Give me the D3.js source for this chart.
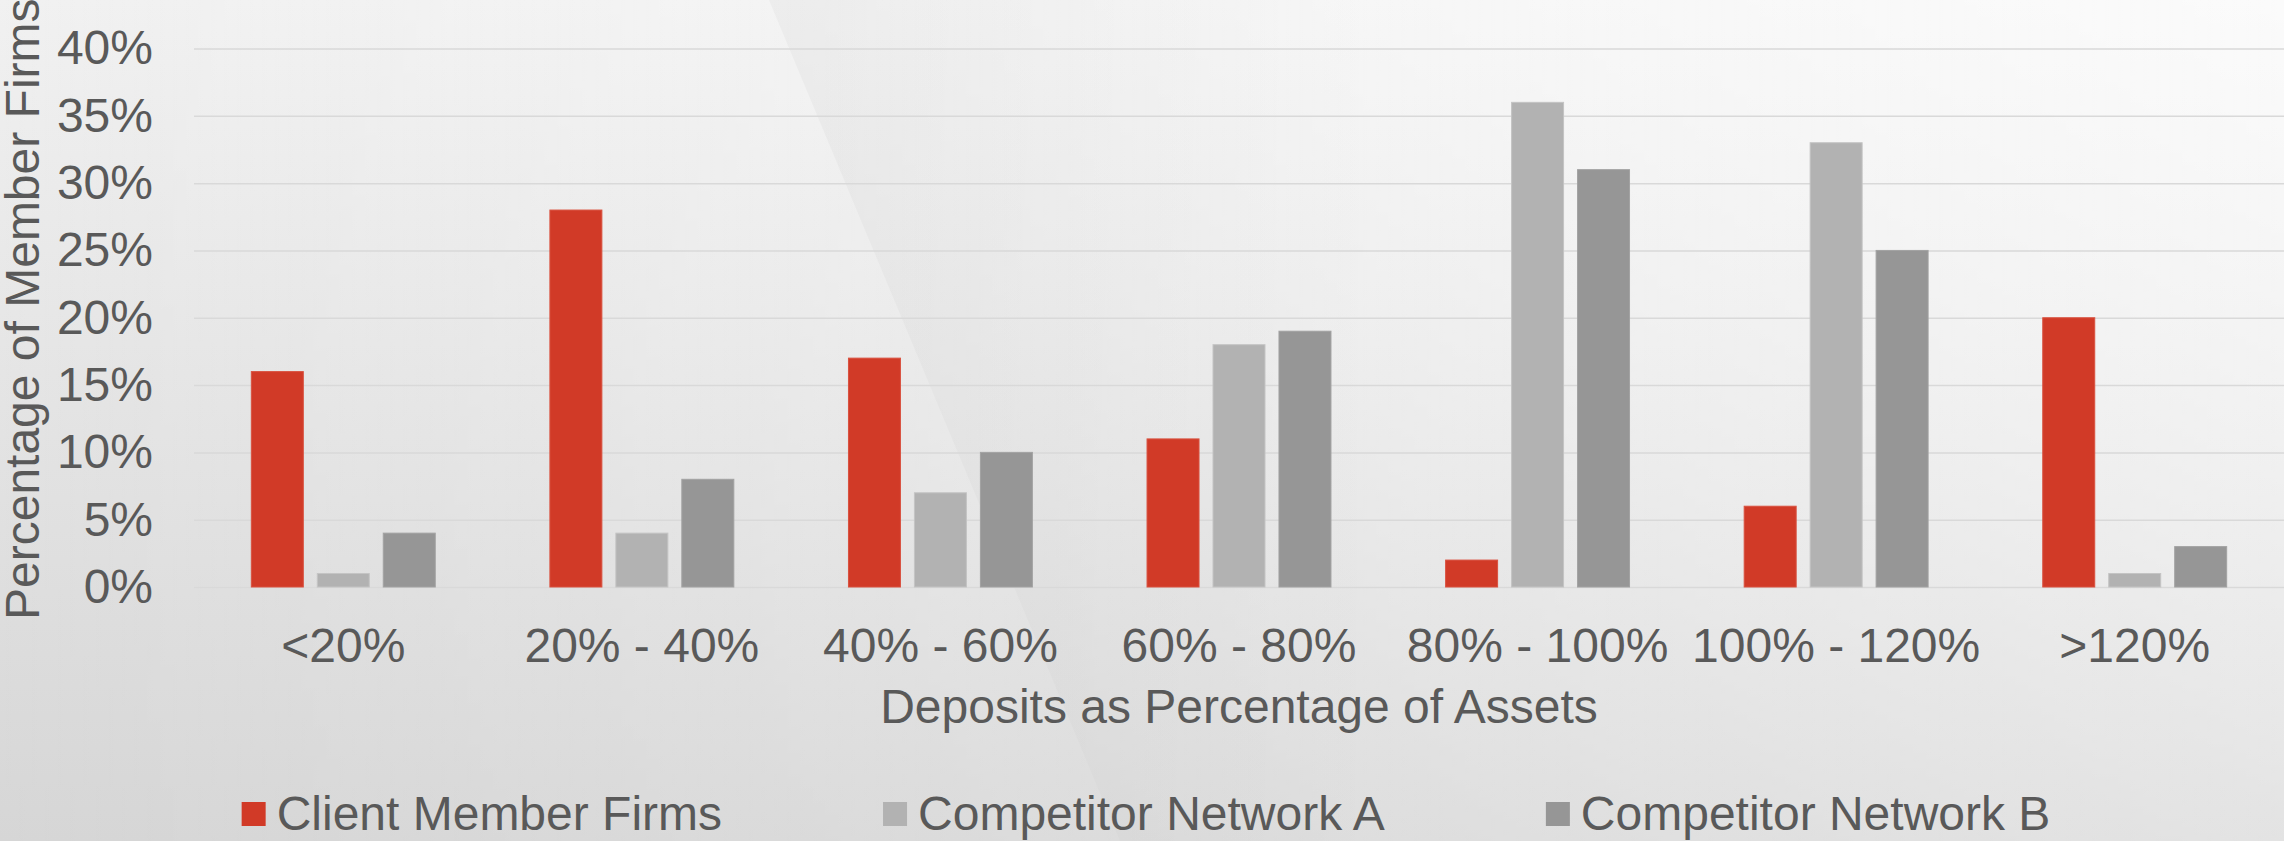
<!DOCTYPE html>
<html>
<head>
<meta charset="utf-8">
<script src="https://cdn.jsdelivr.net/npm/d3@7"></script>
<style>
  html, body { margin: 0; padding: 0; overflow: hidden; background: #e8e8e8; }
  svg { display: block; font-family: "Liberation Sans", Arial, sans-serif; }
</style>
</head>
<body>
<svg id="chart"></svg>
<script>
// chart data
const categories = ['<20%', '20% - 40%', '40% - 60%', '60% - 80%', '80% - 100%', '100% - 120%', '>120%'];
const seriesNames = ['Client Member Firms', 'Competitor Network A', 'Competitor Network B'];
const clientFirms = [16, 28, 17, 11, 2, 6, 20];
const networkA = [1, 4, 7, 18, 36, 33, 1];
const networkB = [4, 8, 10, 19, 31, 25, 3];
const yTicks = [0, 5, 10, 15, 20, 25, 30, 35, 40];
const colors = ['#d13a27', '#b2b2b2', '#969696'];
const strokes = ['#d9513f', '#c4c4c4', '#a2a2a2'];

const width = 2284;
const height = 841;
const margin = { top: 48.5, right: 0, bottom: 254, left: 194 };
const textColor = '#595959';

const svg = d3.select('#chart')
    .attr('width', width)
    .attr('height', height);

const defs = svg.append('defs');

// background: light gray slide, darker toward the bottom left
const vGrad = defs.append('linearGradient').attr('id', 'bgV')
    .attr('x1', 0).attr('y1', 0).attr('x2', 0).attr('y2', 1);
vGrad.append('stop').attr('offset', '0%').attr('stop-color', '#f1f1f1');
vGrad.append('stop').attr('offset', '100%').attr('stop-color', '#d6d6d6');

const hGrad = defs.append('linearGradient').attr('id', 'bgH')
    .attr('x1', 0).attr('y1', 0).attr('x2', 1).attr('y2', 0);
hGrad.append('stop').attr('offset', '0%').attr('stop-color', '#fff').attr('stop-opacity', 0);
hGrad.append('stop').attr('offset', '100%').attr('stop-color', '#fff').attr('stop-opacity', 0.7);

const mGrad = defs.append('linearGradient').attr('id', 'bgM')
    .attr('x1', 0).attr('y1', 0).attr('x2', 0).attr('y2', 1);
mGrad.append('stop').attr('offset', '0%').attr('stop-color', '#fff');
mGrad.append('stop').attr('offset', '100%').attr('stop-color', '#777');
defs.append('mask').attr('id', 'bgMask')
    .append('rect').attr('width', width).attr('height', height).attr('fill', 'url(#bgM)');

const sGrad = defs.append('linearGradient').attr('id', 'streak')
    .attr('gradientUnits', 'userSpaceOnUse')
    .attr('x1', 800).attr('y1', 0).attr('x2', 1400).attr('y2', 0);
sGrad.append('stop').attr('offset', '0%').attr('stop-color', '#000').attr('stop-opacity', 0.03);
sGrad.append('stop').attr('offset', '100%').attr('stop-color', '#000').attr('stop-opacity', 0);

svg.append('rect').attr('width', width).attr('height', height).attr('fill', 'url(#bgV)');
svg.append('rect').attr('width', width).attr('height', height)
    .attr('fill', 'url(#bgH)').attr('mask', 'url(#bgMask)');
svg.append('path')
    .attr('d', 'M769,0 L1500,0 L1800,841 L1120,841 Z')
    .attr('fill', 'url(#streak)');

// scales
const x0 = d3.scaleBand()
    .domain(categories)
    .range([margin.left, width - margin.right])
    .padding(0);

const x1 = d3.scaleBand()
    .domain(seriesNames)
    .range([0, x0.bandwidth()])
    .paddingInner(0.212)
    .paddingOuter(0.869);

const y = d3.scaleLinear()
    .domain([0, 40])
    .range([587, margin.top]);

// y axis with gridlines
const yAxis = svg.append('g')
    .attr('transform', `translate(${margin.left},0)`)
    .call(d3.axisLeft(y)
        .tickValues(yTicks)
        .tickFormat(d => d + '%')
        .tickSize(-(width - margin.left - margin.right))
        .tickPadding(41));
yAxis.select('.domain').remove();
yAxis.selectAll('line').attr('stroke', '#d9d9d9').attr('stroke-width', 1.5);
yAxis.selectAll('text')
    .attr('fill', textColor)
    .attr('font-size', 48)
    .attr('font-family', '"Liberation Sans", Arial, sans-serif');

// x axis
const xAxis = svg.append('g')
    .attr('transform', `translate(0,${y(0)})`)
    .call(d3.axisBottom(x0).tickSize(0).tickPadding(41));
xAxis.select('.domain').remove();
xAxis.selectAll('text')
    .attr('fill', textColor)
    .attr('font-size', 48)
    .attr('font-family', '"Liberation Sans", Arial, sans-serif');

// bars
const rows = categories.map((c, i) => ({
    cat: c,
    values: [clientFirms[i], networkA[i], networkB[i]]
}));

const groups = svg.append('g').selectAll('g')
    .data(rows)
    .enter()
    .append('g')
    .attr('transform', d => `translate(${x0(d.cat)},0)`);

groups.selectAll('rect')
    .data(d => d.values.map((v, j) => ({ name: seriesNames[j], value: v, j: j })))
    .enter()
    .append('rect')
    .attr('x', d => x1(d.name))
    .attr('y', d => y(d.value))
    .attr('width', x1.bandwidth())
    .attr('height', d => y(0) - y(d.value))
    .attr('fill', d => colors[d.j])
    .attr('stroke', d => strokes[d.j])
    .attr('stroke-width', 1);

// axis titles
svg.append('text')
    .attr('x', (margin.left + width - margin.right) / 2)
    .attr('y', 723)
    .attr('text-anchor', 'middle')
    .attr('font-size', 48)
    .attr('fill', textColor)
    .text('Deposits as Percentage of Assets');

svg.append('text')
    .attr('transform', 'translate(39,620) rotate(-90)')
    .attr('text-anchor', 'start')
    .attr('font-size', 48)
    .attr('fill', textColor)
    .text('Percentage of Member Firms');

// legend
const legend = svg.append('g');
const swatch = 24, swatchGap = 11, itemGap = 161;
let cursor = 0;
seriesNames.forEach((name, i) => {
    const item = legend.append('g').attr('transform', `translate(${cursor},0)`);
    item.append('rect')
        .attr('x', 0).attr('y', -28)
        .attr('width', swatch).attr('height', swatch)
        .attr('fill', colors[i]);
    const t = item.append('text')
        .attr('x', swatch + swatchGap)
        .attr('y', 0)
        .attr('font-size', 48)
        .attr('fill', textColor)
        .text(name);
    cursor += swatch + swatchGap + t.node().getComputedTextLength() + itemGap;
});
const legendWidth = cursor - itemGap;
legend.attr('transform', `translate(${1146 - legendWidth / 2},830)`);
</script>
</body>
</html>
